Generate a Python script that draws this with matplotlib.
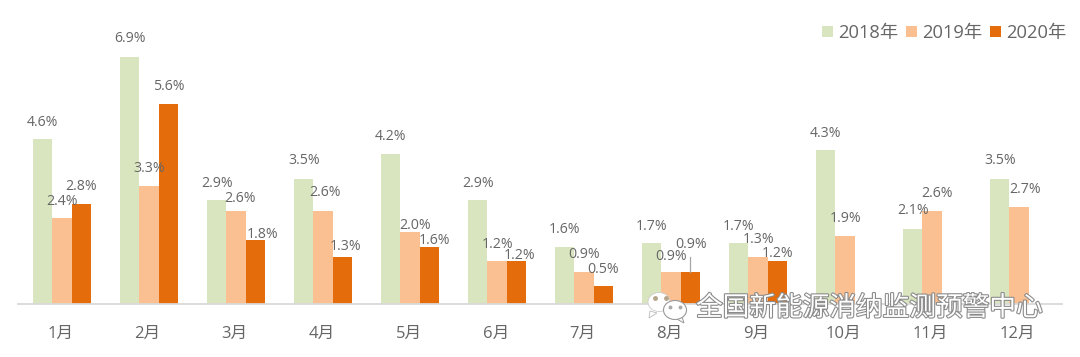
"""Monthly share chart, 2018-2020, with grouped bars and hand-placed labels."""
import matplotlib
matplotlib.use("Agg")
import matplotlib.pyplot as plt
import matplotlib.patheffects as pe
from matplotlib.patches import Ellipse, Polygon
import numpy as np

plt.rcParams["font.family"] = ["Open Sans", "Noto Sans CJK SC", "DejaVu Sans"]

months = ["1月", "2月", "3月", "4月", "5月", "6月", "7月", "8月", "9月", "10月", "11月", "12月"]
v2018 = [4.6, 6.9, 2.9, 3.5, 4.2, 2.9, 1.6, 1.7, 1.7, 4.3, 2.1, 3.5]
v2019 = [2.4, 3.3, 2.6, 2.6, 2.0, 1.2, 0.9, 0.9, 1.3, 1.9, 2.6, 2.7]
v2020 = [2.8, 5.6, 1.8, 1.3, 1.6, 1.2, 0.5, 0.9, 1.2]

# label offsets in pixels from the top centre of each bar (dx, dy up)
off2018 = [(0, 17), (0, 18), (0, 17), (0, 18), (0, 17), (0, 17),
           (0, 17), (0, 17), (0, 17), (0, 17), (0, 18), (0, 18)]
off2019 = [(0, 17), (0, 17), (4, 12), (2, 18), (5, 7), (0, 17),
           (0, 17), (0, 15), (0, 18), (0, 17), (5, 17), (6, 18)]
off2020 = [(0, 17), (0, 17), (7, 5), (3, 11), (5, 6), (3, 6),
           (0, 17), (1, 27), (0, 8)]

W, H = 1080, 357
BASE = 304
PX_PER_UNIT = 35.8
GREY = "#666666"

fig = plt.figure(figsize=(W / 100, H / 100), dpi=100)
ax = fig.add_axes([18 / W, (H - BASE) / H, 1044 / W, BASE / H])
ax.set_xlim(-0.5, 11.5)
ax.set_ylim(0, BASE / PX_PER_UNIT)

w = 19.3 / 87
series = [
    ("2018年", v2018, off2018, "#D9E5BE", -w),
    ("2019年", v2019, off2019, "#FBC091", 0),
    ("2020年", v2020, off2020, "#E56C0A", w),
]
for name, vals, offs, col, shift in series:
    xs = np.arange(len(vals)) + shift + 0.006
    ax.bar(xs, vals, w, color=col, label=name, linewidth=0, zorder=2)
    for x, v, (dx, dy) in zip(xs, vals, offs):
        ax.annotate(f"{v:.1f}%", (x, v), xytext=(dx * 0.72, dy * 0.72),
                    textcoords="offset points", ha="center", va="center",
                    fontsize=10.2, color=GREY, zorder=4)

# leader line for the 2020 August label
ax.plot([7 + w, 7 + w], [0.9, 0.9 + 15 / PX_PER_UNIT], color="#A6A6A6", lw=0.9, zorder=3)

for s in ["top", "left", "right"]:
    ax.spines[s].set_visible(False)
ax.spines["bottom"].set_color("#D9D9D9")
ax.spines["bottom"].set_linewidth(1.3)
ax.set_yticks([])
ax.set_xticks(np.arange(12) - 0.01)
ax.set_xticklabels(months, fontsize=12, color=GREY)
ax.tick_params(axis="x", length=0, pad=16)

ax.legend(loc="upper right", bbox_to_anchor=(1.0 + 5 / 1044, 1.0 - 24 / BASE), ncol=3, frameon=False,
          fontsize=13.2, labelcolor=GREY, handlelength=0.6, handleheight=0.6,
          handletextpad=0.28, columnspacing=0.42, borderpad=0, borderaxespad=0)

# watermark over the axis line
outline = [pe.withStroke(linewidth=1.6, foreground="#8C8C8C")]
fig.text(696 / W, 1 - 308 / H, "全国新能源消纳监测预警中心", fontsize=19.2, color="white",
         ha="left", va="center", family=["Noto Sans CJK SC", "DejaVu Sans"],
         path_effects=outline, zorder=10)

ov = fig.add_axes([0, 0, 1, 1], facecolor="none")
ov.set_xlim(0, W)
ov.set_ylim(H, 0)
ov.axis("off")
ov.add_patch(Polygon([(650, 311), (649, 318), (657, 313)], fc="white", ec="#BBBBBB", lw=0.6))
ov.add_patch(Ellipse((659, 302), 22, 19, fc="white", ec="#CCCCCC", lw=0.6))
ov.add_patch(Polygon([(682, 317), (684, 323), (675, 318)], fc="white", ec="#999999", lw=0.7))
ov.add_patch(Ellipse((675, 310), 23, 19, fc="white", ec="#999999", lw=0.8))
ov.plot([655, 666], [298, 298], ls="", marker="o", ms=2.5, color="#B5A58A")
ov.plot([670, 680], [307, 307], ls="", marker="o", ms=1.8, color="#AAAAAA")

fig.savefig("out.png", dpi=100)
